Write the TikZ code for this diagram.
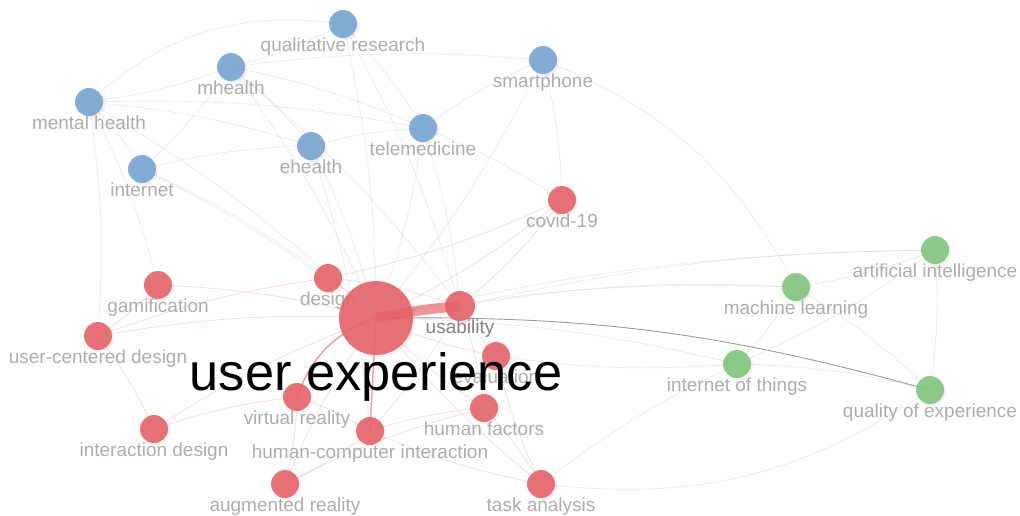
\documentclass[tikz,border=0pt]{standalone}
\usepackage{fontspec}
\setmainfont{Liberation Sans}
\usetikzlibrary{backgrounds, shadows}

\definecolor{kwblue}{RGB}{115,163,208}
\definecolor{kwred}{RGB}{228,96,102}
\definecolor{kwgreen}{RGB}{126,196,124}
\definecolor{taggray}{RGB}{172,172,172}
\definecolor{linkblue}{RGB}{175,198,222}
\definecolor{linkred}{RGB}{240,160,165}
\definecolor{linkgray}{RGB}{205,205,205}

\begin{document}
\begin{tikzpicture}[x=0.02cm, y=-0.02cm,
  kw/.style={circle, inner sep=0pt, minimum size=0.56cm, fill opacity=0.88,
    drop shadow={opacity=0.12, shadow xshift=0.04cm, shadow yshift=-0.04cm}},
  bluekw/.style={kw, fill=kwblue},
  redkw/.style={kw, fill=kwred},
  greenkw/.style={kw, fill=kwgreen},
  tag/.style={text=taggray, font=\fontsize{10.8}{12}\selectfont, anchor=base,
    inner sep=0pt, label distance=0.26cm},
  eb/.style={linkblue, line width=0.4pt, opacity=0.35},
  er/.style={linkred, line width=0.4pt, opacity=0.4},
  eg/.style={linkgray, line width=0.4pt, opacity=0.45},
  ]

  \useasboundingbox (0,0) rectangle (1020,515);

  % blue cluster
  \node[bluekw, label={[tag]below:qualitative research}] (qr) at (343,24) {};
  \node[bluekw, label={[tag]below:mhealth}] (mhealth) at (231,67) {};
  \node[bluekw, label={[tag]below:smartphone}] (smartphone) at (543,60) {};
  \node[bluekw, label={[tag]below:mental health}] (mental) at (89,102) {};
  \node[bluekw, label={[tag]below:ehealth}] (ehealth) at (311,146) {};
  \node[bluekw, label={[tag]below:telemedicine}] (telemed) at (423,128) {};
  \node[bluekw, label={[tag]below:internet}] (internet) at (142,169) {};

  % red cluster
  \node[redkw, label={[tag]below:covid-19}] (covid) at (562,200) {};
  \node[redkw, label={[tag]below:gamification}] (gamif) at (158,285) {};
  \node[redkw, label={[tag]below:design}] (design) at (328,278) {};
  \node[redkw, label={[tag]below:user-centered design}] (ucd) at (98,336) {};
  \node[redkw, label={[tag]below:evaluation}] (evalu) at (496,356) {};
  \node[redkw, label={[tag]below:virtual reality}] (vr) at (297,397) {};
  \node[redkw, label={[tag]below:human factors}] (hfactors) at (484,408) {};
  \node[redkw, label={[tag]below:interaction design}] (ixd) at (154,429) {};
  \node[redkw, label={[tag]below:human-computer interaction}] (hci) at (370,431) {};
  \node[redkw, label={[tag]below:augmented reality}] (ar) at (285,484) {};
  \node[redkw, label={[tag]below:task analysis}] (task) at (541,484) {};
  \node[redkw, minimum size=0.6cm, label={[tag, text=gray, label distance=0.25cm]below:usability}] (usab) at (460,306) {};
  \node[redkw, minimum size=1.48cm] (ux) at (376,318) {};

  % green cluster
  \node[greenkw, label={[tag]below:artificial intelligence}] (ai) at (935,250) {};
  \node[greenkw, label={[tag]below:machine learning}] (ml) at (796,287) {};
  \node[greenkw, label={[tag]below:internet of things}] (iot) at (737,364) {};
  \node[greenkw, label={[tag]below:quality of experience}] (qoe) at (930,390) {};

  \node[anchor=base, inner sep=0pt, font=\fontsize{29.8}{32}\selectfont] (uxtag) at (376,390) {user experience};

  \begin{scope}[on background layer]
    \foreach \a/\b in {qr/mhealth, qr/telemed, qr/ux, qr/usab, mhealth/smartphone,
        mhealth/telemed, mhealth/ehealth, mhealth/mental, mhealth/internet,
        mhealth/ux, mhealth/usab, mental/telemed, mental/ehealth, mental/internet,
        mental/ux, mental/ucd, mental/gamif, internet/ehealth, internet/ux,
        internet/design, ehealth/telemed, ehealth/ux, ehealth/hci, telemed/smartphone,
        telemed/ux, telemed/usab, telemed/covid, smartphone/ux, smartphone/covid}
      \draw[eb] (\a.center) to[bend left=6] (\b.center);
    \draw[eb] (mental.center) to[bend left=25] (qr.center);
    \draw[eb] (smartphone.center) to[bend left=20] (ml.center);

    \foreach \a/\b in {covid/ux, covid/design, covid/usab, gamif/ux, gamif/ucd,
        ucd/ux, ucd/ixd, ucd/design, design/ux, design/usab, ixd/ux, ixd/vr,
        vr/hci, vr/ar, hci/ar, hci/hfactors, hfactors/ux, hfactors/task,
        evalu/ux, evalu/usab, task/ux, task/evalu, task/hci, ar/ux, ar/hfactors,
        usab/hfactors, usab/hci}
      \draw[er] (\a.center) to[bend left=6] (\b.center);
    \draw[kwred, opacity=0.65, line width=0.8pt] (ux.center) to[bend right=25] (vr.center);
    \draw[kwred, opacity=0.6, line width=0.8pt] (ux.center) -- (hci.center);

    \foreach \a/\b in {ai/ml, ai/iot, ai/qoe, ml/iot, ml/qoe, iot/qoe, ux/ml,
        ux/iot, ux/ai, usab/ml, usab/ai, task/iot, iot/evalu}
      \draw[eg] (\a.center) to[bend left=6] (\b.center);
    \draw[eg] (task.center) to[bend right=20] (qoe.center);
    \draw[gray!80, line width=0.5pt] (ux.center) to[bend left=8] (qoe.center);
  \end{scope}

  % strongest link
  \draw[kwred, opacity=0.65, line width=0.2cm] (ux.center) to[bend left=3] (usab.center);

\end{tikzpicture}
\end{document}
